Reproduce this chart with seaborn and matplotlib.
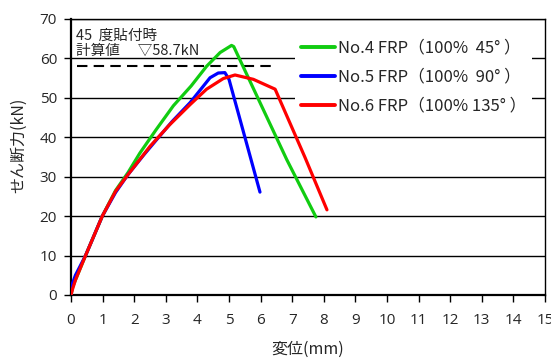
import numpy as np
import pandas as pd
import matplotlib
matplotlib.use("Agg")
import matplotlib.pyplot as plt
import seaborn as sns

# values
no4_x = [0, 0.05, 0.15, 0.46, 0.99, 1.41, 1.8, 2.18, 2.7, 3.24, 3.8, 4.29, 4.72, 5.08, 5.15, 6.83, 7.75]
no4_y = [0, 2.0, 4.0, 10.0, 20.0, 26.5, 31.0, 36.0, 42.0, 48.0, 53.0, 58.0, 61.5, 63.3, 63.0, 34.3, 19.8]
no5_x = [0, 0.05, 0.14, 0.46, 0.99, 1.41, 1.8, 2.3, 2.71, 3.2, 3.77, 4.4, 4.66, 4.87, 5.0, 5.98]
no5_y = [0, 3.0, 5.0, 10.0, 20.0, 26.0, 30.5, 35.5, 39.4, 44.0, 48.8, 55.1, 56.3, 56.4, 54.7, 26.1]
no6_x = [0, 0.05, 0.14, 0.46, 0.99, 1.41, 1.8, 2.5, 3.1, 3.77, 4.29, 4.82, 5.19, 5.77, 6.46, 7.41, 8.1]
no6_y = [0, 1.5, 3.8, 10.0, 20.0, 26.3, 30.5, 37.7, 43.0, 48.3, 52.2, 54.9, 55.8, 54.7, 52.2, 34.8, 21.6]

labels = ["No.4 FRP（100%  45° ）", "No.5 FRP（100%  90° ）", "No.6 FRP（100% 135° ）"]
colors = ["#11CC11", "#0000FF", "#FF0000"]

calc_x = [0.18, 6.4]
calc_y = [58.2, 58.2]
calc_text = "45  度貼付時\n計算値　 ▽58.7kN"

x_ticks = list(range(0, 16))
y_ticks = list(range(0, 80, 10))


def build_frame() -> pd.DataFrame:
	parts = []
	for lab, xs, ys in zip(labels, [no4_x, no5_x, no6_x], [no4_y, no5_y, no6_y]):
		parts.append(pd.DataFrame({"x": xs, "y": ys, "series": lab}))
	return pd.concat(parts, ignore_index=True)


def main():
	sns.set_theme(style="white")
	plt.rcParams["font.family"] = ["Noto Sans CJK JP", "DejaVu Sans"]

	fig = plt.figure(figsize=(5.51, 3.58), dpi=100)
	ax = fig.add_axes([71 / 551, 1 - 295 / 358, 474 / 551, 276 / 358])

	df = build_frame()
	sns.lineplot(
		data=df, x="x", y="y", hue="series", units="series",
		palette=dict(zip(labels, colors)), sort=False, estimator=None,
		linewidth=2.3, ax=ax, zorder=3
	)
	ax.plot(calc_x, calc_y, color="black", linestyle=(0, (5, 3)), linewidth=1.5, zorder=2)
	ax.text(0.01, 0.965, calc_text, transform=ax.transAxes, fontsize=10.5,
		va="top", ha="left", linespacing=1.12, zorder=1)

	ax.set_xlim(0, 15)
	ax.set_ylim(0, 70)
	ax.set_xticks(x_ticks)
	ax.set_yticks(y_ticks)
	ax.yaxis.grid(True, color="black", linewidth=1)
	ax.xaxis.grid(False)
	for side in ["left", "bottom", "right", "top"]:
		ax.spines[side].set_color("black")
		ax.spines[side].set_linewidth(1)
	ax.spines["left"].set_linewidth(1.6)
	ax.spines["bottom"].set_linewidth(1.6)
	ax.tick_params(axis="both", direction="out", length=5, width=1, color="black",
		labelsize=11, left=True, bottom=True)
	ax.tick_params(axis="x", pad=8)
	ax.tick_params(axis="y", pad=5)
	for lbl in ax.get_xticklabels() + ax.get_yticklabels():
		lbl.set_family(["Open Sans", "DejaVu Sans"])

	ax.set_xlabel("変位(mm)", fontsize=11.5)
	ax.set_ylabel("せん断力(kN)", fontsize=11.5)
	ax.xaxis.set_label_coords(0.5, -0.165)
	ax.yaxis.set_label_coords(-0.092, 0.543)

	leg = ax.legend(
		loc="upper left", bbox_to_anchor=(0.4726, 0.946), frameon=True,
		fontsize=12, handlelength=2.07, handletextpad=0.18, labelspacing=0.72,
		borderaxespad=0, borderpad=0.34
	)
	leg.get_frame().set_facecolor("white")
	leg.get_frame().set_edgecolor("none")
	leg.get_frame().set_alpha(1)
	leg.get_frame().set_boxstyle("square", pad=0.0)
	for line in leg.get_lines():
		line.set_linewidth(2.8)
	leg.set_zorder(5)

	fig.savefig("out.png", dpi=100)


if __name__ == "__main__":
	main()
